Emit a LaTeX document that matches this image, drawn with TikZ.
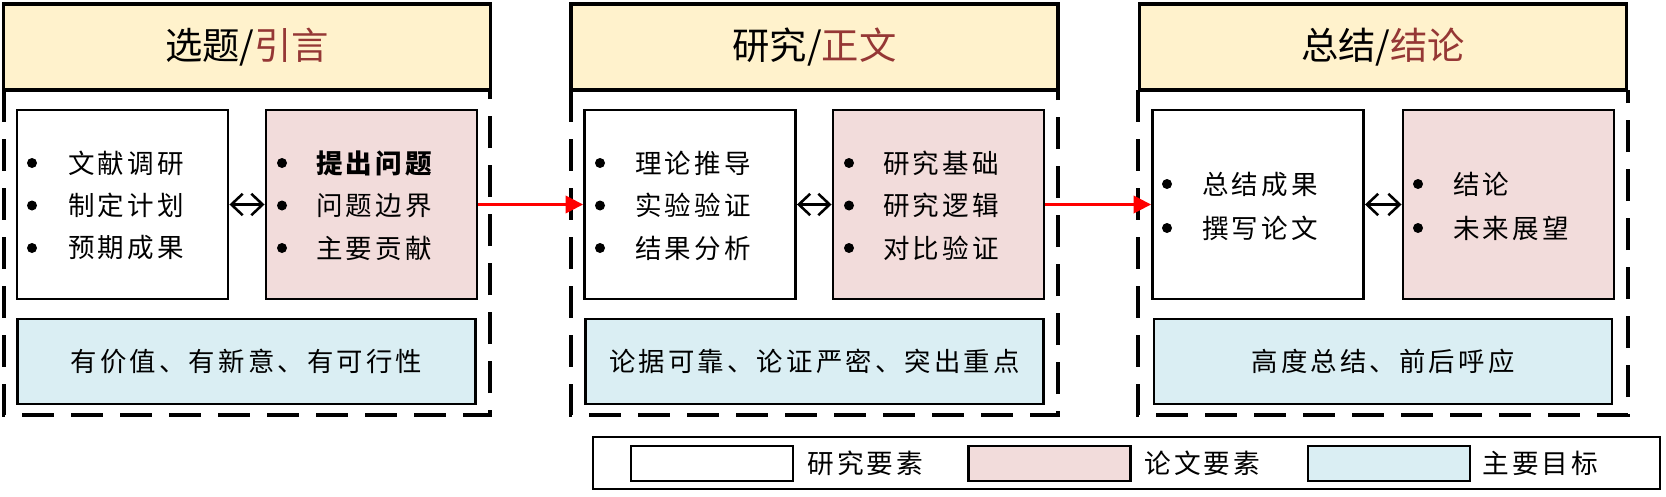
\documentclass[tikz,border=0pt]{standalone}
\usepackage{fontspec}
\usetikzlibrary{arrows.meta}
\newfontfamily\cjk{Noto Sans CJK SC}
\newfontfamily\cjksp{Noto Sans CJK SC}[LetterSpace=12]
\definecolor{hdyellow}{HTML}{FFF2CC}
\definecolor{hdred}{HTML}{953735}
\definecolor{pinkfill}{HTML}{F2DCDB}
\definecolor{bluefill}{HTML}{DAEEF3}
\tikzset{
  header/.style={draw=black, line width=2.5pt, fill=hdyellow, minimum width=365.25pt, minimum height=64.5pt, inner sep=0pt, font=\cjk\fontsize{28}{30}\selectfont},
  outerdash/.style={draw=black, line width=2.4pt, dash pattern=on 24pt off 12.75pt},
  resbox/.style={draw=black, line width=2.2pt, fill=white, minimum width=158.25pt, minimum height=141.75pt, inner sep=0pt},
  paperbox/.style={resbox, fill=pinkfill},
  goalbox/.style={draw=black, line width=2.2pt, fill=bluefill, minimum width=343.5pt, minimum height=63.75pt, inner sep=0pt, font=\cjksp\fontsize{19.8}{22}\selectfont},
  itemtext/.style={anchor=west, inner sep=0pt, font=\cjksp\fontsize{19.9}{22}\selectfont},
  dot/.style={circle, fill=black, inner sep=0pt, minimum size=7.5pt},
  dbl/.style={line width=1.9pt, {Straight Barb[length=8.5pt,width=16pt]}-{Straight Barb[length=8.5pt,width=16pt]}},
  redarr/.style={draw=red, line width=1.9pt, -{Triangle[length=13pt,width=13pt]}},
  legbox/.style={draw=black, line width=2.2pt, fill=white, minimum width=800.25pt, minimum height=39pt, inner sep=0pt},
  swatch/.style={draw=black, line width=2.2pt, minimum width=121.5pt, minimum height=26.25pt, inner sep=0pt},
  legtext/.style={anchor=west, inner sep=0pt, font=\cjksp\fontsize{20}{22}\selectfont},
}
\begin{document}
\begin{tikzpicture}[x=0.75pt, y=-0.75pt]
\useasboundingbox (0,0) rectangle (1666,496);

% outer dashed frames
\coordinate (d1a) at (4,90);
\coordinate (d1b) at (4,415);
\coordinate (d1c) at (490,415);
\coordinate (d1d) at (490,90);
\draw[outerdash] (d1a) -- (d1b) -- (d1c) -- (d1d);
\coordinate (d2a) at (571,90);
\coordinate (d2b) at (571,415);
\coordinate (d2c) at (1058,415);
\coordinate (d2d) at (1058,90);
\draw[outerdash] (d2a) -- (d2b) -- (d2c) -- (d2d);
\coordinate (d3a) at (1138,90);
\coordinate (d3b) at (1138,415);
\coordinate (d3c) at (1628,415);
\coordinate (d3d) at (1628,90);
\draw[outerdash] (d3a) -- (d3b) -- (d3c) -- (d3d);

% headers
\node[header] (h1) at (247,47) {选题/\textcolor{hdred}{引言}};
\node[header] (h2) at (814.5,47) {研究/\textcolor{hdred}{正文}};
\node[header] (h3) at (1383,47) {总结/\textcolor{hdred}{结论}};

% column 1
\node[resbox] (w1) at (122.5,204.5) {};
\node[paperbox] (p1) at (371.5,204.5) {};
\node[goalbox] (g1) at (246.5,361.5) {有价值、有新意、有可行性};
\node[dot] (w1b1) at (32,163) {};
\node[dot] (w1b2) at (32,205.5) {};
\node[dot] (w1b3) at (32,248) {};
\node[itemtext] (w1t1) at (68,163) {文献调研};
\node[itemtext] (w1t2) at (68,205.5) {制定计划};
\node[itemtext] (w1t3) at (68,248) {预期成果};
\node[dot] (p1b1) at (282,163) {};
\node[dot] (p1b2) at (282,205.5) {};
\node[dot] (p1b3) at (282,248) {};
\node[itemtext] (p1t1) at (316,163) {\bfseries 提出问题};
\node[itemtext] (p1t2) at (316,205.5) {问题边界};
\node[itemtext] (p1t3) at (316,248) {主要贡献};

% column 2
\node[resbox] (w2) at (690,204.5) {};
\node[paperbox] (p2) at (938.5,204.5) {};
\node[goalbox] (g2) at (814.5,361.5) {论据可靠、论证严密、突出重点};
\node[dot] (w2b1) at (600,163) {};
\node[dot] (w2b2) at (600,205.5) {};
\node[dot] (w2b3) at (600,248) {};
\node[itemtext] (w2t1) at (635,163) {理论推导};
\node[itemtext] (w2t2) at (635,205.5) {实验验证};
\node[itemtext] (w2t3) at (635,248) {结果分析};
\node[dot] (p2b1) at (849,163) {};
\node[dot] (p2b2) at (849,205.5) {};
\node[dot] (p2b3) at (849,248) {};
\node[itemtext] (p2t1) at (883,163) {研究基础};
\node[itemtext] (p2t2) at (883,205.5) {研究逻辑};
\node[itemtext] (p2t3) at (883,248) {对比验证};

% column 3
\node[resbox] (w3) at (1258,204.5) {};
\node[paperbox] (p3) at (1508.5,204.5) {};
\node[goalbox] (g3) at (1383,361.5) {高度总结、前后呼应};
\node[dot] (w3b1) at (1167,184) {};
\node[dot] (w3b2) at (1167,228) {};
\node[itemtext] (w3t1) at (1202,184) {总结成果};
\node[itemtext] (w3t2) at (1202,228) {撰写论文};
\node[dot] (p3b1) at (1418,184) {};
\node[dot] (p3b2) at (1418,228) {};
\node[itemtext] (p3t1) at (1453,184) {结论};
\node[itemtext] (p3t2) at (1453,228) {未来展望};

% connectors
\draw[dbl] (w1.east) -- (p1.west);
\draw[dbl] (w2.east) -- (p2.west);
\draw[dbl] (w3.east) -- (p3.west);
\draw[redarr] (p1.east) -- (w2.west);
\draw[redarr] (p2.east) -- (w3.west);

% legend
\node[legbox] (leg) at (1126.5,463) {};
\node[swatch, fill=white] (s1) at (712,463.5) {};
\node[legtext] (l1) at (807,463.5) {研究要素};
\node[swatch, fill=pinkfill] (s2) at (1049.5,463.5) {};
\node[legtext] (l2) at (1144,463.5) {论文要素};
\node[swatch, fill=bluefill] (s3) at (1389,463.5) {};
\node[legtext] (l3) at (1482,463.5) {主要目标};
\end{tikzpicture}
\end{document}
